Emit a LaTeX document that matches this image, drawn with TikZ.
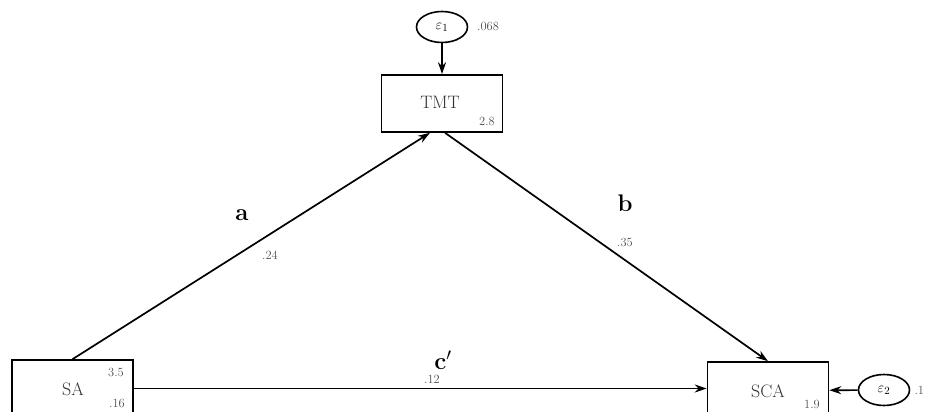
\documentclass[tikz,border=0pt]{standalone}
\usetikzlibrary{arrows.meta,positioning,shapes.geometric}
\begin{document}
\begin{tikzpicture}[x=1pt, y=-1pt,
    varbox/.style={draw, line width=1.6pt, minimum width=121pt, minimum height=57pt, inner sep=0pt},
    errnode/.style={draw, ellipse, line width=1.6pt, minimum width=51pt, minimum height=31pt, inner sep=0pt},
    pathline/.style={line width=1.7pt, -{Stealth[length=12pt,width=8pt]}},
    coef/.style={font=\fontsize{12.5}{14}\selectfont, text=numColour},
    varlabel/.style={font=\fontsize{18}{20}\selectfont, text=numColour!60!black},
    pathlabel/.style={font=\fontsize{24}{26}\selectfont\bfseries}]
    \definecolor{numColour}{HTML}{505050}

    \useasboundingbox (0,0) rectangle (930,412);

    % Draw variables
    \node[varbox] (TMT) at (442,103.5) {};
    \node[varbox] (SA) at (72.5,388.5) {};
    \node[varbox] (SCA) at (768,390.5) {};
    \node[varlabel] at (440,102) {TMT};
    \node[varlabel] at (73,389) {SA};
    \node[varlabel] at (768,391) {SCA};

    % Draw error terms
    \node[errnode] (E1) at (442,27) {\fontsize{15}{17}\selectfont$\varepsilon_1$};
    \node[errnode] (E2) at (884,390) {\fontsize{15}{17}\selectfont$\varepsilon_2$};

    % Draw paths
    \draw[pathline] (E1) -- (TMT);
    \draw[pathline] (E2) -- (SCA);
    \draw[pathline] (SA.north) -- ([xshift=-12pt]TMT.south);
    \draw[pathline] ([xshift=3pt]TMT.south) -- (SCA.north);
    \draw[pathline] (SA.east) -- (SA.east -| SCA.west);

    % Label paths
    \node[pathlabel] at (242,215) {a};
    \node[pathlabel] at (625,203) {b};
    \node[pathlabel] at (443,360) {c$'$};
    \node[coef] at (270,255) {.24};
    \node[coef] at (625,242) {.35};
    \node[coef] at (432,379) {.12};

    % Label variances and intercepts
    \node[coef] at (487,121) {2.8};
    \node[coef] at (116,372) {3.5};
    \node[coef] at (117,403) {.16};
    \node[coef] at (812,404) {1.9};
    \node[coef] at (488,26) {.068};
    \node[coef, anchor=west] at (911,390) {.1};

\end{tikzpicture}
\end{document}
